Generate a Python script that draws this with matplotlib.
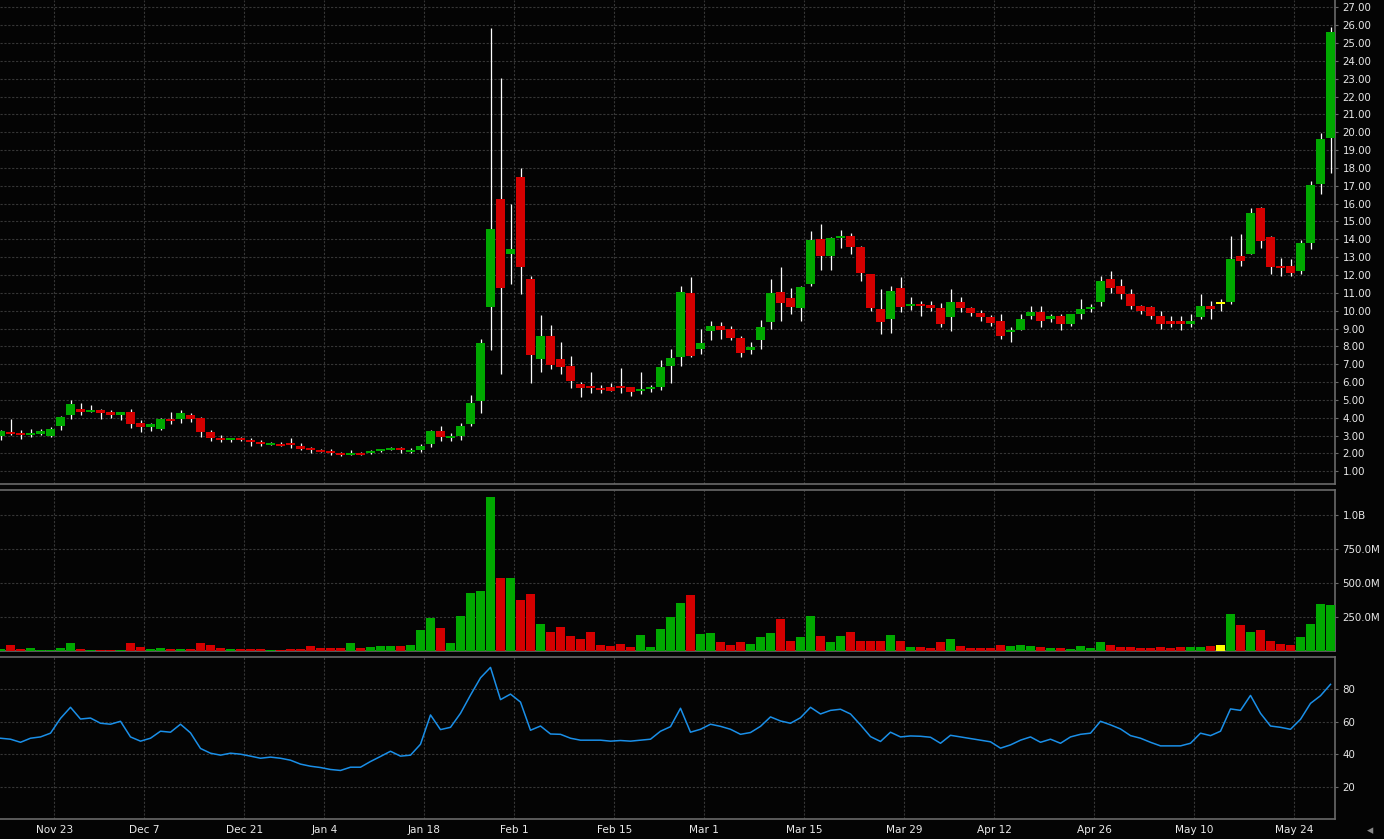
import matplotlib
matplotlib.use("Agg")
import matplotlib.pyplot as plt
from matplotlib.patches import Rectangle

# ---- data ----
opens = [2.96, 3.22, 3.16, 3.01, 3.11, 3.00, 3.56, 4.13, 4.51, 4.34,
         4.45, 4.34, 4.17, 4.34, 3.72, 3.50, 3.37, 3.95, 3.95, 4.17,
         4.00, 3.22, 2.88, 2.77, 2.88, 2.77, 2.66, 2.49, 2.55, 2.60,
         2.44, 2.32, 2.21, 2.16, 2.03, 1.92, 2.03, 2.03, 2.14, 2.20,
         2.31, 2.08, 2.20, 2.53, 3.26, 2.87, 2.98, 3.66, 4.95, 10.22,
         16.28, 13.19, 17.51, 11.79, 7.30, 8.59, 7.30, 6.91, 5.90, 5.79,
         5.68, 5.73, 5.79, 5.73, 5.51, 5.62, 5.73, 6.91, 7.43, 11.00,
         7.86, 8.87, 9.15, 8.98, 8.48, 7.81, 8.37, 9.37, 11.05, 10.72,
         10.16, 11.50, 14.02, 13.07, 14.07, 14.19, 13.57, 12.06, 10.10, 9.54,
         11.28, 10.27, 10.38, 10.32, 10.16, 9.65, 10.49, 10.16, 9.88, 9.65,
         9.43, 8.81, 8.94, 9.73, 9.90, 9.51, 9.73, 9.23, 9.79, 10.07,
         10.51, 11.75, 11.41, 10.91, 10.29, 10.18, 9.68, 9.40, 9.45, 9.23,
         9.62, 10.29, 10.37, 10.51, 13.09, 13.20, 15.78, 14.15, 12.53, 12.53,
         12.25, 13.82, 17.12, 19.69]
highs = [3.33, 3.95, 3.29, 3.37, 3.37, 3.46, 4.08, 5.01, 4.84, 4.73,
         4.51, 4.45, 4.34, 4.51, 3.89, 3.71, 3.99, 4.34, 4.45, 4.28,
         4.06, 3.33, 3.05, 2.88, 2.90, 2.88, 2.77, 2.62, 2.66, 2.88,
         2.60, 2.34, 2.23, 2.27, 2.08, 2.20, 2.06, 2.20, 2.27, 2.36,
         2.36, 2.31, 2.53, 3.32, 3.54, 3.15, 3.71, 5.28, 8.42, 25.84,
         23.04, 16.00, 18.00, 11.96, 9.77, 9.21, 8.26, 7.47, 6.01, 6.57,
         5.84, 5.96, 6.80, 5.75, 6.57, 5.84, 7.25, 7.86, 11.40, 11.89,
         8.98, 9.43, 9.37, 9.15, 8.59, 8.25, 9.49, 11.78, 12.45, 11.28,
         11.39, 14.47, 14.86, 14.13, 14.52, 14.35, 13.60, 12.08, 11.22, 11.39,
         11.89, 10.77, 10.55, 10.55, 10.44, 11.22, 10.77, 10.21, 10.04, 9.77,
         9.82, 9.09, 9.84, 10.24, 10.24, 9.84, 9.84, 9.84, 10.68, 10.40,
         11.97, 12.25, 11.80, 11.19, 10.32, 10.29, 9.96, 9.73, 9.73, 9.79,
         10.91, 10.57, 10.63, 14.21, 14.32, 15.78, 15.80, 14.17, 12.98, 12.87,
         13.99, 17.29, 19.97, 25.91]
lows = [2.73, 3.01, 2.83, 2.90, 3.03, 2.94, 3.33, 3.96, 4.13, 4.30,
        3.95, 3.99, 3.89, 3.45, 3.22, 3.28, 3.33, 3.67, 3.72, 3.78,
        2.94, 2.72, 2.66, 2.66, 2.72, 2.44, 2.44, 2.47, 2.42, 2.32,
        2.21, 2.04, 2.08, 1.93, 1.86, 1.90, 1.90, 1.97, 2.08, 2.18,
        2.03, 2.03, 2.08, 2.36, 2.70, 2.70, 2.76, 3.54, 4.27, 7.81,
        6.46, 11.50, 10.95, 5.96, 6.57, 6.74, 6.46, 5.68, 5.17, 5.40,
        5.40, 5.49, 5.40, 5.23, 5.34, 5.45, 5.56, 5.96, 6.90, 7.38,
        7.60, 8.37, 8.42, 8.37, 7.43, 7.60, 7.86, 8.98, 9.43, 9.82,
        9.43, 11.39, 12.28, 12.28, 13.51, 13.18, 11.67, 9.99, 8.70, 8.76,
        9.93, 10.04, 9.71, 9.99, 9.09, 8.87, 9.93, 9.71, 9.43, 9.15,
        8.42, 8.25, 8.90, 9.51, 9.06, 9.34, 8.94, 9.12, 9.56, 9.90,
        10.24, 11.02, 10.63, 10.07, 9.84, 9.56, 9.00, 9.06, 8.94, 9.06,
        9.51, 9.56, 9.96, 10.40, 12.53, 13.15, 13.54, 12.08, 11.97, 11.97,
        12.08, 13.43, 16.56, 17.74]
closes = [3.24, 3.11, 3.01, 3.16, 3.24, 3.39, 4.06, 4.79, 4.34, 4.45,
          4.25, 4.17, 4.34, 3.67, 3.50, 3.67, 3.95, 3.84, 4.28, 3.95,
          3.22, 2.88, 2.77, 2.88, 2.77, 2.66, 2.55, 2.60, 2.44, 2.49,
          2.27, 2.21, 2.10, 2.04, 1.92, 2.03, 1.92, 2.14, 2.25, 2.31,
          2.20, 2.20, 2.42, 3.26, 2.93, 2.98, 3.54, 4.83, 8.20, 14.60,
          11.29, 13.47, 12.46, 7.53, 8.59, 6.97, 6.85, 6.07, 5.68, 5.68,
          5.56, 5.51, 5.68, 5.45, 5.62, 5.73, 6.85, 7.36, 11.05, 7.49,
          8.20, 9.15, 8.93, 8.48, 7.64, 7.97, 9.09, 11.00, 10.44, 10.21,
          11.33, 13.96, 13.07, 14.07, 14.19, 13.57, 12.12, 10.16, 9.37, 11.11,
          10.21, 10.38, 10.27, 10.16, 9.26, 10.49, 10.16, 9.88, 9.65, 9.32,
          8.59, 8.93, 9.51, 9.90, 9.40, 9.68, 9.23, 9.79, 10.12, 10.18,
          11.69, 11.30, 10.91, 10.24, 10.01, 9.68, 9.28, 9.23, 9.23, 9.45,
          10.24, 10.12, 10.37, 12.87, 12.81, 15.50, 13.93, 12.47, 12.42, 12.14,
          13.82, 17.06, 19.64, 25.63]
volume_m = [17, 47, 17, 25, 10, 10, 25, 61, 17, 10,
            10, 10, 10, 61, 32, 17, 25, 17, 17, 17,
            61, 47, 25, 17, 17, 17, 17, 10, 10, 17,
            17, 39, 25, 25, 25, 61, 25, 32, 39, 39,
            39, 47, 157, 245, 172, 61, 260, 429, 444, 1135,
            539, 539, 377, 422, 201, 142, 179, 113, 91, 142,
            47, 39, 54, 32, 120, 32, 164, 252, 355, 414,
            127, 135, 69, 47, 69, 54, 105, 135, 238, 76,
            105, 260, 113, 69, 113, 142, 76, 76, 76, 120,
            76, 32, 32, 25, 69, 91, 39, 25, 25, 25,
            47, 39, 47, 39, 32, 25, 25, 17, 39, 25,
            69, 47, 32, 32, 25, 25, 32, 25, 32, 32,
            32, 39, 47, 275, 194, 142, 157, 76, 54, 47,
            105, 201, 348, 341]
rsi = [49.8, 49.2, 47.3, 49.8, 50.6, 52.9, 62.0, 68.8, 61.6, 62.2,
       59.0, 58.4, 60.2, 50.6, 48.0, 49.8, 54.1, 53.5, 58.4, 53.1,
       43.5, 40.6, 39.4, 40.6, 40.0, 38.8, 37.5, 38.2, 37.5, 36.3,
       33.9, 32.6, 31.8, 30.6, 30.0, 32.0, 32.0, 35.5, 38.6, 41.8,
       38.8, 39.4, 46.1, 64.1, 55.1, 56.5, 65.1, 76.3, 86.9, 93.3,
       73.5, 76.9, 72.0, 54.7, 57.3, 52.4, 52.2, 49.8, 48.6, 48.6,
       48.6, 48.0, 48.4, 48.0, 48.6, 49.2, 54.1, 56.9, 68.2, 53.5,
       55.3, 58.4, 57.1, 55.3, 52.2, 53.3, 57.1, 62.9, 60.4, 59.0,
       62.4, 68.8, 64.7, 66.9, 67.6, 64.7, 58.0, 50.8, 47.8, 53.5,
       50.6, 51.2, 51.0, 50.4, 46.7, 51.6, 50.6, 49.6, 48.6, 47.6,
       43.7, 45.7, 48.6, 50.6, 47.3, 49.2, 46.7, 50.6, 52.2, 52.9,
       60.2, 58.0, 55.5, 51.4, 49.8, 47.3, 45.1, 45.1, 45.1, 46.7,
       52.9, 51.4, 54.1, 67.8, 66.9, 76.1, 65.1, 57.3, 56.5, 55.3,
       61.4, 71.2, 75.9, 82.9]

tick_index = [5, 14, 24, 32, 42, 51, 61, 70, 80, 90, 99, 109, 119, 129]
tick_labels = ["Nov 23", "Dec 7", "Dec 21", "Jan 4", "Jan 18", "Feb 1", "Feb 15",
               "Mar 1", "Mar 15", "Mar 29", "Apr 12", "Apr 26", "May 10", "May 24"]

UP = "#00a800"
DOWN = "#d40000"
FLAT = "#ffff00"
BG = "#040404"
GRID = "#363636"
FRAME = "#6a6a6a"
TXT = "#e8e8e8"

W, H = 1384, 839
fig = plt.figure(figsize=(W / 100, H / 100), dpi=100, facecolor=BG)


def add_panel(top, bottom):
    ax = fig.add_axes([0, 1 - bottom / H, 1335 / W, (bottom - top) / H])
    ax.set_facecolor(BG)
    for side in ["left", "top"]:
        ax.spines[side].set_visible(False)
    for side in ["right", "bottom"]:
        ax.spines[side].set_color(FRAME)
        ax.spines[side].set_linewidth(1.2)
    ax.yaxis.tick_right()
    ax.tick_params(axis="y", colors=FRAME, labelcolor=TXT, labelsize=7.4,
                   length=2.5, width=0.8, pad=3)
    ax.tick_params(axis="x", length=0)
    ax.set_xlim(-0.05, 133.45)
    ax.set_xticks([i + 0.38 for i in tick_index])
    ax.grid(True, color=GRID, linestyle=(0, (2, 1.5)), linewidth=0.8)
    ax.set_axisbelow(True)
    return ax


colors = []
for o, c in zip(opens, closes):
    if c > o:
        colors.append(UP)
    elif c < o:
        colors.append(DOWN)
    else:
        colors.append(FLAT)

# ---- price panel ----
ax1 = add_panel(0, 484)
ax1.set_ylim(0.29, 27.41)
ax1.set_yticks(range(1, 28))
ax1.set_yticklabels([f"{v:.2f}" for v in range(1, 28)])
ax1.set_xticklabels([])
for i in range(len(opens)):
    ax1.vlines(i, lows[i], highs[i], color="white", linewidth=0.9, zorder=2)
    lo = min(opens[i], closes[i])
    h = max(abs(closes[i] - opens[i]), 0.1)
    ax1.add_patch(Rectangle((i - 0.45, lo), 0.9, h, facecolor=colors[i],
                            edgecolor="none", zorder=3))

# ---- volume panel ----
ax2 = add_panel(489.5, 651.3)
vols = [v * 1e6 for v in volume_m]
ax2.bar(range(len(vols)), vols, width=0.9, color=colors, zorder=3)
ax2.set_ylim(0, 1.19e9)
ax2.set_yticks([250e6, 500e6, 750e6, 1e9])
ax2.set_yticklabels(["250.0M", "500.0M", "750.0M", "1.0B"])
ax2.set_xticklabels([])
ax2.spines["top"].set_visible(True)
ax2.spines["top"].set_color(FRAME)
ax2.spines["top"].set_linewidth(1.2)

# ---- RSI panel ----
ax3 = add_panel(656.5, 819.3)
ax3.plot(range(len(rsi)), rsi, color="#1a8fe8", linewidth=1.1, zorder=3)
ax3.set_ylim(0, 100)
ax3.set_yticks([20, 40, 60, 80])
ax3.spines["top"].set_visible(True)
ax3.spines["top"].set_color(FRAME)
ax3.spines["top"].set_linewidth(1.2)
ax3.set_xticklabels(tick_labels)
ax3.tick_params(axis="x", labelcolor=TXT, labelsize=7.6, pad=4)

fig.text(1370 / W, 1 - 831 / H, "\u25c2", color="#888888", fontsize=9,
         ha="center", va="center")

fig.savefig("out.png", dpi=100, facecolor=BG)
